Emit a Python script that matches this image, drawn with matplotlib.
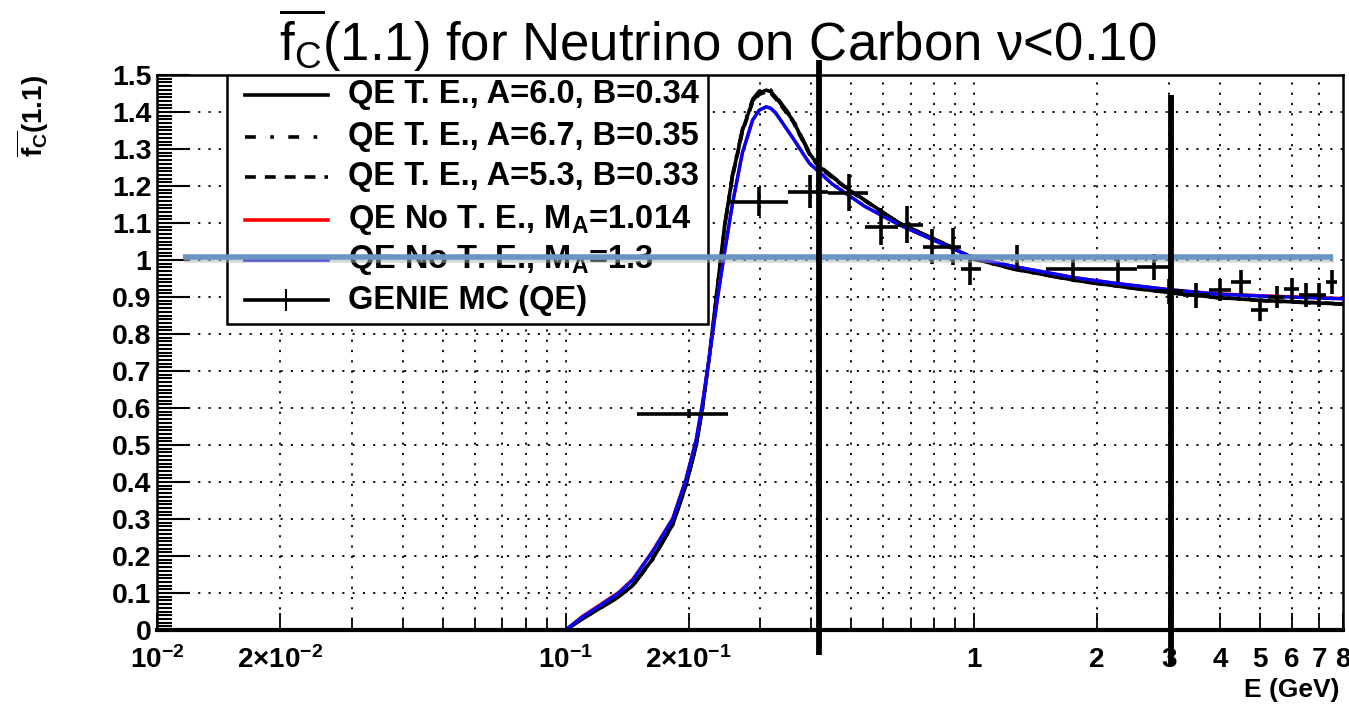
import matplotlib
matplotlib.use("Agg")
import matplotlib.pyplot as plt
import matplotlib.transforms as mtransforms
from matplotlib.ticker import FixedLocator, NullFormatter, MultipleLocator
import numpy as np

plt.rcParams['font.family'] = ['Liberation Sans', 'DejaVu Sans']
plt.rcParams['mathtext.fontset'] = 'custom'
plt.rcParams['mathtext.rm'] = 'Liberation Sans'
plt.rcParams['mathtext.bf'] = 'Liberation Sans:bold'
plt.rcParams['mathtext.default'] = 'regular'

# ---------------- data ----------------
title = r"$\overline{\mathrm{f}_{\mathrm{C}}}$(1.1) for Neutrino on Carbon ν<0.10"
ylabel = r"$\overline{\mathbf{f}_{\mathbf{C}}}$(1.1)"
xlabel = "E (GeV)"

# theory curves (energy in GeV)
e_te = [0.1, 0.11, 0.121, 0.135, 0.146, 0.163, 0.183, 0.197, 0.209, 0.217, 0.225,
        0.235, 0.245, 0.256, 0.271, 0.287, 0.298, 0.31, 0.318, 0.327, 0.34, 0.36,
        0.395, 0.418, 0.495, 0.656, 0.869, 1.0, 1.26, 1.77, 2.22, 3.0, 3.9, 5.17, 8.0]
f_te_a60 = [0.0, 0.03, 0.058, 0.09, 0.12, 0.19, 0.285, 0.39, 0.50, 0.61, 0.74,
            0.92, 1.09, 1.225, 1.35, 1.43, 1.452, 1.459, 1.455, 1.44, 1.415, 1.378,
            1.289, 1.252, 1.189, 1.10, 1.038, 1.003, 0.975, 0.945, 0.93, 0.912, 0.899, 0.89, 0.881]
f_te_a67 = [0.0, 0.03, 0.057, 0.089, 0.119, 0.188, 0.283, 0.388, 0.498, 0.608, 0.74,
            0.922, 1.094, 1.23, 1.355, 1.435, 1.457, 1.464, 1.46, 1.445, 1.419, 1.382,
            1.292, 1.255, 1.19, 1.10, 1.038, 1.002, 0.974, 0.944, 0.929, 0.911, 0.898, 0.889, 0.880]
f_te_a53 = [0.0, 0.031, 0.059, 0.091, 0.121, 0.192, 0.287, 0.392, 0.502, 0.612, 0.74,
            0.918, 1.086, 1.22, 1.345, 1.425, 1.447, 1.454, 1.45, 1.435, 1.411, 1.374,
            1.286, 1.249, 1.187, 1.099, 1.038, 1.004, 0.976, 0.946, 0.931, 0.913, 0.90, 0.891, 0.882]

e_note = [0.1, 0.11, 0.121, 0.135, 0.146, 0.163, 0.183, 0.197, 0.209, 0.217, 0.225,
          0.235, 0.245, 0.256, 0.271, 0.287, 0.298, 0.31, 0.318, 0.327, 0.34, 0.36,
          0.395, 0.45, 0.54, 0.656, 0.869, 1.0, 1.26, 1.77, 2.22, 3.0, 3.9, 5.17, 8.0]
f_note_ma1014 = [0.0, 0.037, 0.067, 0.102, 0.137, 0.212, 0.302, 0.407, 0.517, 0.622, 0.741,
                 0.89, 1.02, 1.15, 1.29, 1.378, 1.405, 1.414, 1.41, 1.397, 1.37, 1.33,
                 1.262, 1.205, 1.145, 1.095, 1.035, 1.005, 0.982, 0.952, 0.937, 0.92,
                 0.909, 0.903, 0.896]
f_note_ma13 = [0.0, 0.035, 0.065, 0.10, 0.135, 0.21, 0.30, 0.405, 0.515, 0.62, 0.74,
               0.89, 1.02, 1.15, 1.29, 1.378, 1.405, 1.414, 1.41, 1.397, 1.37, 1.33,
               1.262, 1.205, 1.145, 1.095, 1.035, 1.005, 0.982, 0.952, 0.937, 0.92,
               0.908, 0.902, 0.895]

# GENIE MC (QE) histogram points
genie_e = [0.1, 0.2, 0.298, 0.396, 0.495, 0.592, 0.687, 0.788, 0.889, 0.98,
           1.275, 1.75, 2.25, 2.75, 3.0, 3.5, 4.0, 4.5, 5.0, 5.5, 6.0, 6.5, 7.0, 7.5]
genie_elo = [0.05, 0.15, 0.25, 0.35, 0.44, 0.54, 0.65, 0.75, 0.85, 0.93,
             1.05, 1.5, 2.0, 2.5, 2.75, 3.25, 3.75, 4.25, 4.75, 5.25, 5.75, 6.25, 6.75, 7.25]
genie_ehi = [0.15, 0.25, 0.35, 0.44, 0.55, 0.65, 0.75, 0.85, 0.93, 1.04,
             1.5, 2.0, 2.5, 3.0, 3.25, 3.75, 4.25, 4.75, 5.25, 5.75, 6.25, 6.75, 7.25, 7.75]
genie_f = [0.0, 0.584, 1.158, 1.185, 1.182, 1.09, 1.095, 1.036, 1.036, 0.975,
           1.009, 0.975, 0.975, 0.982, 0.915, 0.905, 0.919, 0.941, 0.865, 0.901,
           0.921, 0.905, 0.905, 0.941]
genie_ferr = [0.0, 0.012, 0.04, 0.045, 0.05, 0.05, 0.05, 0.048, 0.05, 0.042,
              0.032, 0.035, 0.035, 0.035, 0.035, 0.034, 0.03, 0.032, 0.03, 0.03,
              0.03, 0.032, 0.032, 0.032]

legend_labels = ["QE T. E., A=6.0, B=0.34",
                 "QE T. E., A=6.7, B=0.35",
                 "QE T. E., A=5.3, B=0.33",
                 r"QE No T. E., M$_{\mathbf{A}}$=1.014",
                 r"QE No T. E., M$_{\mathbf{A}}$=1.3",
                 "GENIE MC (QE)"]

xmajor = [0.01, 0.02, 0.1, 0.2, 1, 2, 3, 4, 5, 6, 7, 8]
xmajor_labels = [r"10$^{-2}$", r"2$\times$10$^{-2}$", r"10$^{-1}$", r"2$\times$10$^{-1}$",
                 "1", "2", "3", "4", "5", "6", "7", "8"]
xgrid = [0.02, 0.03, 0.04, 0.05, 0.06, 0.07, 0.08, 0.09, 0.1,
         0.2, 0.3, 0.4, 0.5, 0.6, 0.7, 0.8, 0.9, 1, 2, 3, 4, 5, 6, 7]
yticks = [0, 0.1, 0.2, 0.3, 0.4, 0.5, 0.6, 0.7, 0.8, 0.9, 1.0, 1.1, 1.2, 1.3, 1.4, 1.5]
ytick_labels = ["0", "0.1", "0.2", "0.3", "0.4", "0.5", "0.6", "0.7", "0.8", "0.9",
                "1", "1.1", "1.2", "1.3", "1.4", "1.5"]

# annotation overlay lines
vline_x = [0.418, 3.03]
hline_y = 1.007

# ---------------- figure ----------------
W, H = 1349, 705
fig = plt.figure(figsize=(W / 100, H / 100), dpi=100)
ax = fig.add_axes([157 / W, 1 - 630 / H, (1343 - 157) / W, (630 - 75) / H])
ax.set_xscale('log')
ax.set_xlim(0.01, 8.0)
ax.set_ylim(0, 1.5)

# grid
for gx in xgrid:
    ax.axvline(gx, color='black', lw=1.3, dashes=(1.2, 4.5), zorder=1)
for gy in yticks[1:-1]:
    ax.axhline(gy, color='black', lw=1.3, dashes=(1.2, 4.5), zorder=1)

# theory curves
ax.plot(e_te, f_te_a67, color='black', lw=2.3, ls=(0, (6, 3, 1, 3)), zorder=3)
ax.plot(e_te, f_te_a53, color='black', lw=2.3, ls=(0, (3, 2)), zorder=3)
ax.plot(e_te, f_te_a60, color='black', lw=2.6, zorder=3)
ax.plot(e_note, f_note_ma1014, color='#ff0000', lw=2.4, zorder=4)
ax.plot(e_note, f_note_ma13, color='#0000ff', lw=2.4, zorder=5)

# GENIE points
ge = np.array(genie_e)
xerr = [ge - np.array(genie_elo), np.array(genie_ehi) - ge]
ax.errorbar(genie_e, genie_f, xerr=xerr, yerr=genie_ferr, fmt='none',
            ecolor='black', elinewidth=2.6, capsize=0, zorder=6, clip_on=False)

# ticks
ax.xaxis.set_major_locator(FixedLocator(xmajor))
ax.xaxis.set_minor_locator(FixedLocator([0.03, 0.04, 0.05, 0.06, 0.07, 0.08, 0.09,
                                         0.3, 0.4, 0.5, 0.6, 0.7, 0.8, 0.9]))
ax.xaxis.set_minor_formatter(NullFormatter())
ax.set_xticklabels(xmajor_labels)
ax.set_yticks(yticks)
ax.set_yticklabels(ytick_labels)
ax.yaxis.set_minor_locator(MultipleLocator(0.01))
ax.tick_params(axis='both', which='both', direction='in', color='black')
ax.tick_params(axis='x', which='major', length=12, width=1.3, pad=12, labelsize=20)
ax.tick_params(axis='x', which='minor', length=8, width=1.3)
ax.tick_params(axis='y', which='major', length=24, width=1.5, pad=4, labelsize=20.5)
ax.tick_params(axis='y', which='minor', length=11, width=1.5)
for lab in ax.get_xticklabels() + ax.get_yticklabels():
    lab.set_fontweight('bold')
for s in ['left', 'top', 'right']:
    ax.spines[s].set_linewidth(1.8)
ax.spines['bottom'].set_linewidth(3)

# titles and labels
fig.text(718 / W, 1 - 40 / H, title, ha='center', va='center', fontsize=38)
fig.text(33 / W, 1 - 75 / H, ylabel, rotation=90, ha='center', va='top',
         fontsize=20, fontweight='bold')
fig.text(1340 / W, 3 / H, xlabel, ha='right', va='bottom',
         fontsize=19, fontweight='bold')

# legend (drawn manually in pixel-derived axes fractions)
def ax_pt(px, py):
    x0, x1, y0, y1 = 157, 1343, 630, 75
    return (px - x0) / (x1 - x0), (y0 - py) / (y0 - y1)

lx0, ly0 = ax_pt(227, 324)
lx1, ly1 = ax_pt(708, 75)
ax.add_patch(plt.Rectangle((lx0, ly0), lx1 - lx0, ly1 - ly0, transform=ax.transAxes,
                           facecolor='white', edgecolor='black', lw=1.8, zorder=8))
entry_y = [95, 137, 177, 220, 260, 300]
styles = [dict(color='black', ls='-'),
          dict(color='black', ls=(0, (3, 4, 1, 4))),
          dict(color='black', ls=(0, (3, 2.5))),
          dict(color='#ff0000', ls='-'),
          dict(color='#0000ff', ls='-'),
          dict(color='black', ls='-')]
for yy, lab, st in zip(entry_y, legend_labels, styles):
    hx0, hy = ax_pt(245, yy)
    hx1, _ = ax_pt(328, yy)
    ax.plot([hx0, hx1], [hy, hy], transform=ax.transAxes, lw=2.6, zorder=9,
            clip_on=False, **st)
    tx, ty = ax_pt(348, yy)
    ax.text(tx, ty, lab, transform=ax.transAxes, ha='left', va='center',
            fontsize=23.5, fontweight='bold', zorder=9)
# genie legend tick
gx, gy0 = ax_pt(286, 290)
_, gy1 = ax_pt(286, 310)
ax.plot([gx, gx], [gy0, gy1], transform=ax.transAxes, color='black', lw=1.5, zorder=9)

# overlay annotation lines
blend = mtransforms.blended_transform_factory(ax.transAxes, ax.transData)
hx_a, _ = ax_pt(183, 0)
hx_b, _ = ax_pt(1333, 0)
ax.plot([hx_a + 0.001, hx_b + 0.001], [hline_y - 0.006, hline_y - 0.006], transform=blend,
        color='#b0b0b0', lw=4, alpha=0.5, zorder=10, solid_capstyle='butt')
ax.plot([hx_a, hx_b], [hline_y, hline_y], transform=blend,
        color='#6a95c2', lw=4, zorder=11, solid_capstyle='butt')

vblend = mtransforms.blended_transform_factory(ax.transData, fig.transFigure)
v_tops = [1 - 60 / H, 1 - 95 / H]
v_bots = [1 - 655 / H, 1 - 665 / H]
for vx, vt, vb in zip(vline_x, v_tops, v_bots):
    ax.plot([vx, vx], [vb, vt], transform=vblend, color='black', lw=4.2,
            zorder=12, clip_on=False, solid_capstyle='butt')

fig.savefig("out.png", dpi=100)
